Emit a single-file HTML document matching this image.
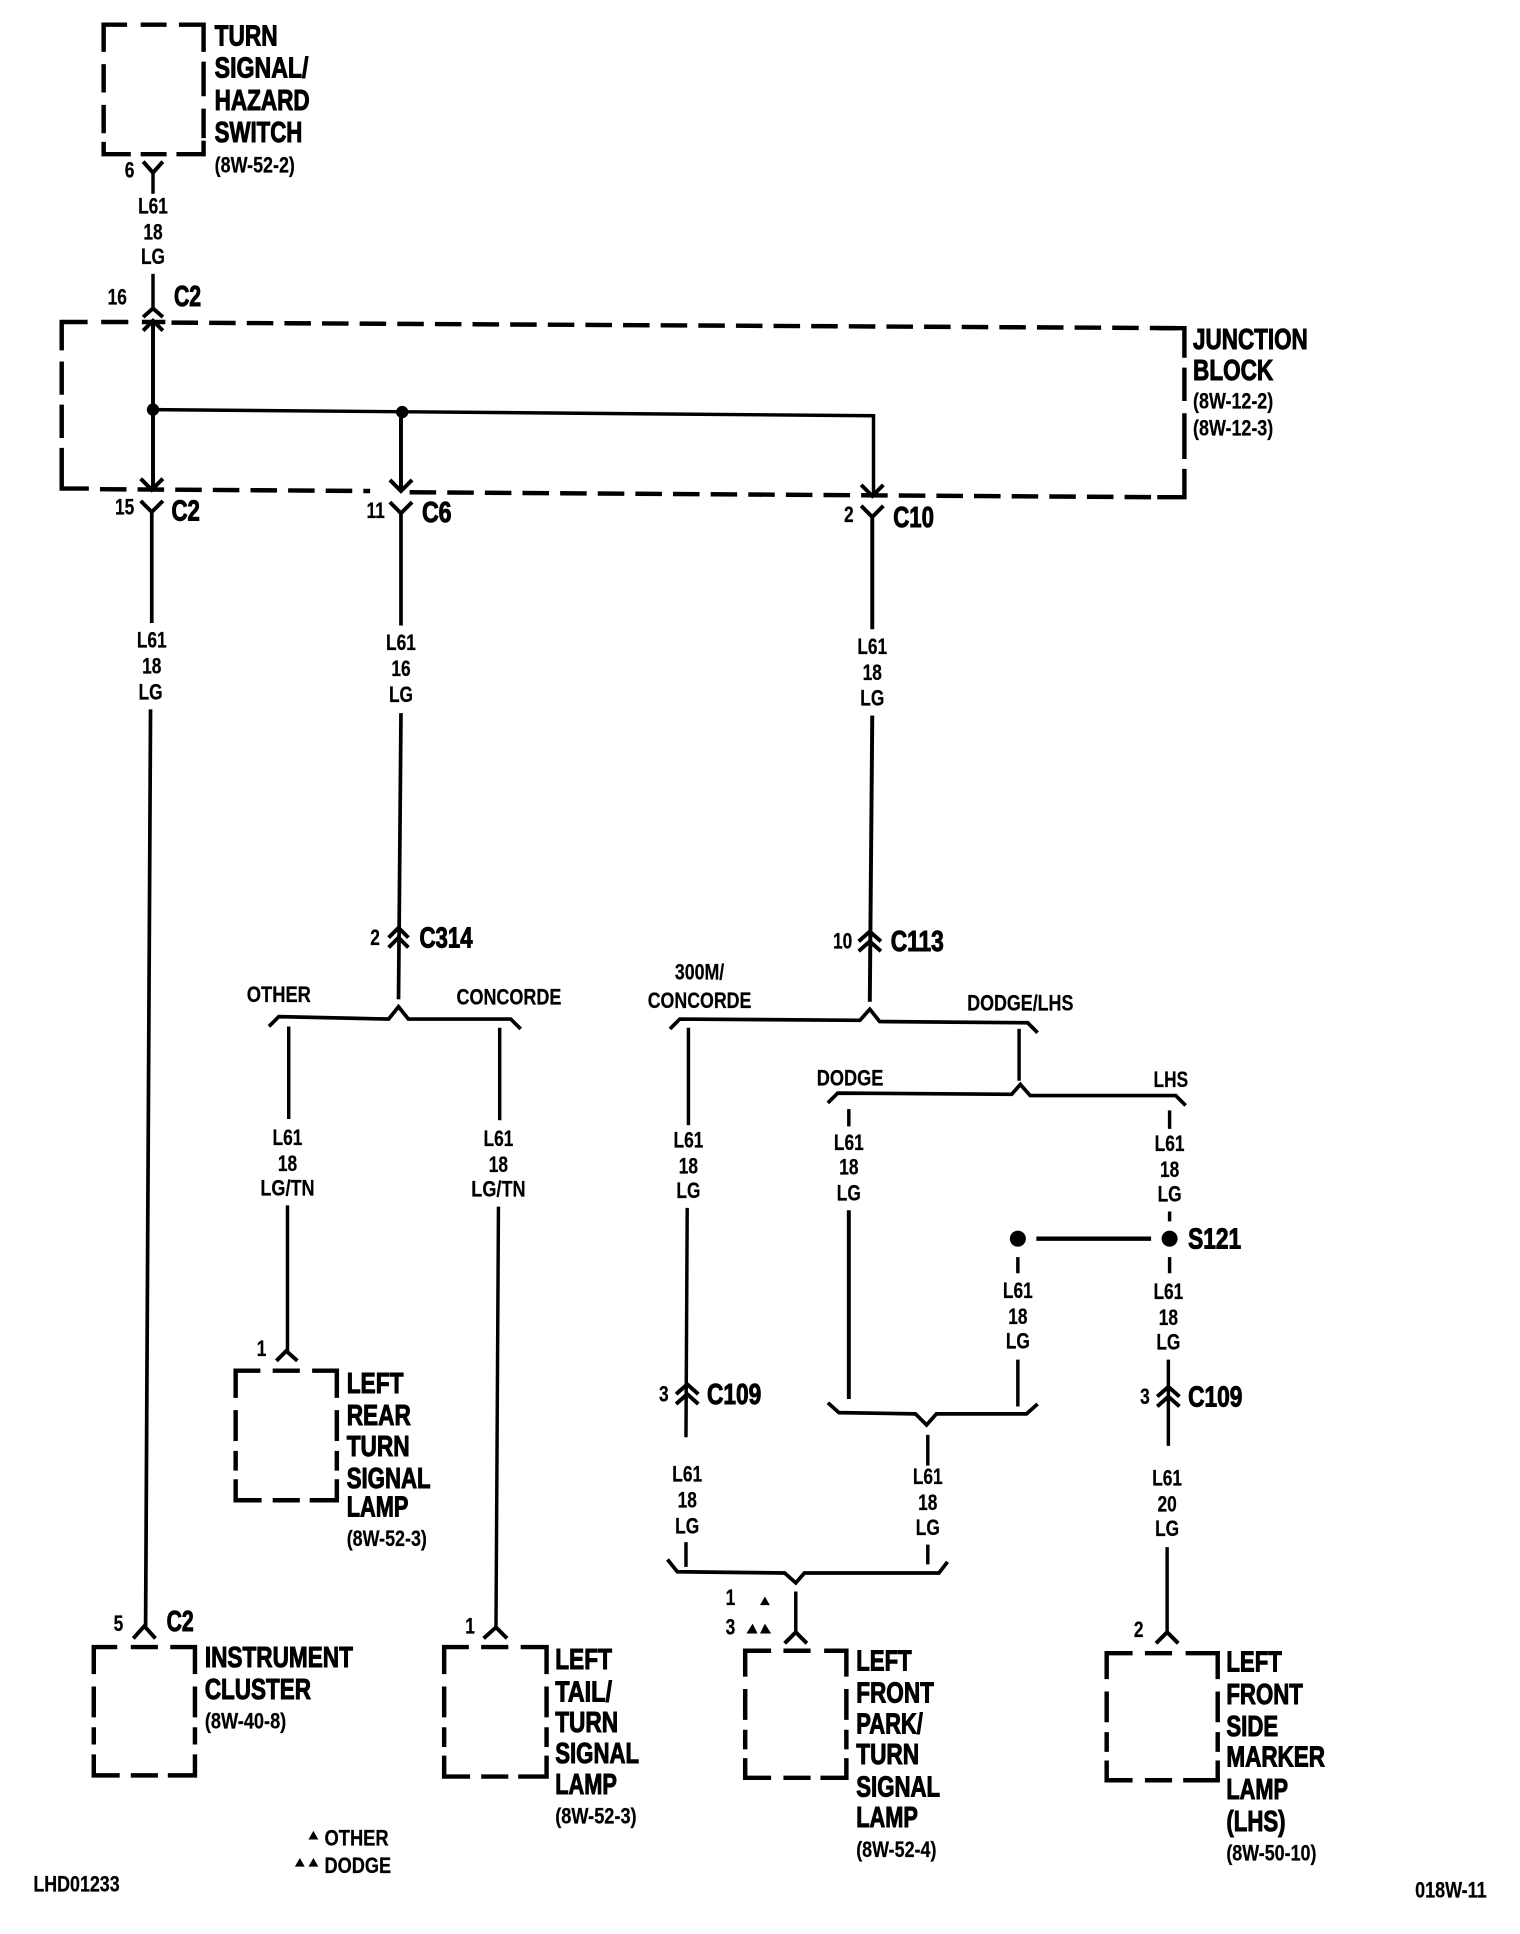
<!DOCTYPE html>
<html>
<head>
<meta charset="utf-8">
<style>
html,body{margin:0;padding:0;background:#fff;width:1520px;height:1934px;overflow:hidden}
svg{display:block}
text{font-family:"Liberation Sans",sans-serif;fill:#000}
.b{font-size:23px;font-weight:bold;stroke:#000;stroke-width:.8px}
.s{font-size:18px;font-weight:bold;stroke:#000;stroke-width:.2px}
.m{text-anchor:middle}
.l text{transform-box:fill-box;transform-origin:center;transform:scaleX(.78)}
.l text[textLength]{transform:none}
.w{fill:none;stroke:#000;stroke-width:2.8}
.t{fill:none;stroke:#000;stroke-width:3.2}
.d{fill:none;stroke:#000;stroke-width:3.6}
</style>
</head>
<body>
<svg width="1520" height="1934" viewBox="0 0 1232 1567.6" xmlns="http://www.w3.org/2000/svg">
<rect width="1232" height="1568" fill="#fff"/>

<!-- dashed boxes -->
<path class="d" d="M84 42V20H103M114 20H135M145 20H165V42M84 52V75M84 85V108M165 50V78M165 88V112M84 115V125H106M114 125H135M143 125H165V114"/>
<path class="d" d="M50 284V261H71M82 261H104M115 261H134"/>
<path class="d" stroke-dasharray="21.5 9" d="M139 261.5L960 266"/>
<path class="d" d="M939 266H960V290M960 298V325M960 335V372M960 380V403H938M50 293V320M50 328V355M50 363V396H72"/>
<path class="d" stroke-dasharray="21.5 9" d="M81 396.5L300 398"/>
<path class="d" stroke-dasharray="21.5 9" d="M332 399L938 403"/>
<path class="d" d="M76 1357V1335H95M106 1335H128M138 1335H158V1357M76 1367V1392M76 1400V1414M158 1367V1392M158 1400V1414M76 1422V1439H97M106 1439H128M136 1439H158V1422"/>
<path class="d" d="M191 1133V1111H211M221 1111H243M253 1111H273V1133M191 1143V1168M191 1176V1192M273 1143V1168M273 1176V1192M191 1199V1216H212M221 1216H243M251 1216H273V1199"/>
<path class="d" d="M360 1357V1335H380M390 1335H412M422 1335H443V1357M360 1367V1392M360 1400V1416M443 1367V1392M443 1400V1416M360 1423V1440H381M390 1440H412M420 1440H443V1423"/>
<path class="d" d="M604 1359V1338H625M635 1338H657M668 1338H686V1359M604 1369V1394M604 1402V1418M686 1369V1394M686 1402V1418M604 1425V1441H625M635 1441H657M665 1441H686V1425"/>
<path class="d" d="M897 1361V1340H918M928 1340H950M961 1340H987V1361M897 1371V1396M897 1404V1420M987 1371V1396M987 1404V1420M897 1427V1443H918M928 1443H950M959 1443H987V1427"/>

<!-- junction block wiring -->
<path class="t" d="M124 332L708 337V402" style="stroke-width:2.8"/>
<path class="t" d="M124 260V397M325 334V398"/>
<circle cx="124" cy="332" r="5"/><circle cx="326" cy="334" r="5"/>
<polyline class="t" points="116,268 124,260 132,268"/>
<polyline class="t" points="114,388 123,397 132,388"/>
<polyline class="t" points="316,389 325,398 334,389"/>
<polyline class="t" points="698,393 707,402 716,393"/>

<!-- top connector -->
<polyline class="t" points="116,131 124,140 132,131"/>
<path class="w" d="M124 140V157M124 222V250"/>
<polyline class="t" points="116,257 124,250 132,257"/>

<!-- C2 / C6 / C10 Y connectors -->
<polyline class="t" points="114,406 123,415 132,406"/>
<path class="w" d="M123 415V505M122 575L118 1318" style="stroke-width:3"/>
<polyline class="t" points="108,1328 117,1318 126,1328"/>

<polyline class="t" points="316,407 325,416 334,407"/>
<path class="w" d="M325 416V507M325 578L323 810" style="stroke-width:3"/>
<polyline class="t" points="315,760 323,752 331,760"/>
<polyline class="t" points="315,768 323,760 331,768"/>

<polyline class="t" points="698,410 707,419 716,410"/>
<path class="w" d="M707 419V510M707 580L705 812" style="stroke-width:3.2"/>
<polyline class="t" points="696,763 705,755 714,763"/>
<polyline class="t" points="696,771 705,763 714,771"/>

<!-- brackets -->
<polyline class="w" style="stroke-width:3" points="218,832 226,824 315,826 323,816 331,826 414,826 422,834"/>
<polyline class="w" style="stroke-width:3" points="543,834 551,826 697,827 705,818 713,828 833,829 841,837"/>
<polyline class="w" style="stroke-width:3" points="671,894 679,886 820,887 827,879 835,888 953,888 961,896"/>
<polyline class="w" style="stroke-width:3" points="671,1137 680,1145 742,1146 751,1155 759,1146 832,1146 841,1138"/>
<polyline class="w" style="stroke-width:3" points="541,1264 549,1274 636,1275 645,1283 652,1275 761,1275 768,1266"/>

<!-- other branch wires -->
<path class="w" d="M234 832V907M233 977V1095"/>
<polyline class="t" points="224,1103 232,1095 241,1103"/>
<path class="w" d="M405 833V908M404 978L402 1320"/>
<polyline class="t" points="392,1328 402,1319 411,1328"/>

<path class="w" d="M558 833V912M557 979L556 1165M556 1250V1270"/>
<polyline class="t" points="548,1130 557,1122 566,1130"/>
<polyline class="t" points="548,1138 557,1130 566,1138"/>
<path class="w" d="M752 1163V1188M752 1252V1268"/>
<path class="w" d="M826 834V876M688 899V913M825 1019V1032M825 1102V1140M948 900V915M948 982V990M948 1019V1032M947 1102V1172M946 1254V1322" />
<path class="w" style="stroke-width:3.2" d="M688 981V1134"/>
<path class="w" style="stroke-width:3.6" d="M840 1004H933"/>
<circle cx="825" cy="1004" r="6.5"/><circle cx="948" cy="1004" r="6.5"/>
<polyline class="t" points="938,1132 947,1124 956,1132"/>
<polyline class="t" points="938,1140 947,1132 956,1140"/>
<polyline class="t" points="937,1332 946,1323 955,1332"/>
<path class="w" d="M645 1290V1325"/>
<polyline class="t" points="636,1332 645,1323 654,1332"/>

<!-- triangles -->
<path d="M616 1301L620 1294L624 1301Z"/>
<path d="M605 1324L610 1316L614 1324ZM616 1324L620 1316L625 1324Z"/>
<path d="M250 1491L254 1484L258 1491Z"/>
<path d="M239 1513L243 1506L247 1513ZM250 1513L254 1506L258 1513Z"/>

<!-- large labels -->
<text class="b" x="174" y="37" textLength="51" lengthAdjust="spacingAndGlyphs">TURN</text>
<text class="b" x="174" y="63" textLength="76" lengthAdjust="spacingAndGlyphs">SIGNAL/</text>
<text class="b" x="174" y="89" textLength="77" lengthAdjust="spacingAndGlyphs">HAZARD</text>
<text class="b" x="174" y="115" textLength="71" lengthAdjust="spacingAndGlyphs">SWITCH</text>
<text class="s" x="174" y="140" textLength="65" lengthAdjust="spacingAndGlyphs">(8W-52-2)</text>

<text class="b" x="141" y="248" textLength="22" lengthAdjust="spacingAndGlyphs">C2</text>
<text class="b" x="139" y="422" textLength="23" lengthAdjust="spacingAndGlyphs">C2</text>
<text class="b" x="342" y="423" textLength="24" lengthAdjust="spacingAndGlyphs">C6</text>
<text class="b" x="724" y="427" textLength="33" lengthAdjust="spacingAndGlyphs">C10</text>

<text class="b" x="967" y="283" textLength="93" lengthAdjust="spacingAndGlyphs">JUNCTION</text>
<text class="b" x="967" y="308" textLength="65" lengthAdjust="spacingAndGlyphs">BLOCK</text>
<text class="s" x="967" y="331" textLength="65" lengthAdjust="spacingAndGlyphs">(8W-12-2)</text>
<text class="s" x="967" y="353" textLength="65" lengthAdjust="spacingAndGlyphs">(8W-12-3)</text>

<text class="b" x="340" y="768" textLength="43" lengthAdjust="spacingAndGlyphs">C314</text>
<text class="b" x="722" y="771" textLength="43" lengthAdjust="spacingAndGlyphs">C113</text>
<text class="b" x="573" y="1138" textLength="44" lengthAdjust="spacingAndGlyphs">C109</text>
<text class="b" x="963" y="1140" textLength="44" lengthAdjust="spacingAndGlyphs">C109</text>
<text class="b" x="963" y="1012" textLength="43" lengthAdjust="spacingAndGlyphs">S121</text>
<text class="b" x="135" y="1322" textLength="22" lengthAdjust="spacingAndGlyphs">C2</text>

<text class="b" x="281" y="1129" textLength="46" lengthAdjust="spacingAndGlyphs">LEFT</text>
<text class="b" x="281" y="1155" textLength="52" lengthAdjust="spacingAndGlyphs">REAR</text>
<text class="b" x="281" y="1180" textLength="51" lengthAdjust="spacingAndGlyphs">TURN</text>
<text class="b" x="281" y="1206" textLength="68" lengthAdjust="spacingAndGlyphs">SIGNAL</text>
<text class="b" x="281" y="1229" textLength="50" lengthAdjust="spacingAndGlyphs">LAMP</text>
<text class="s" x="281" y="1253" textLength="65" lengthAdjust="spacingAndGlyphs">(8W-52-3)</text>

<text class="b" x="166" y="1351" textLength="120" lengthAdjust="spacingAndGlyphs">INSTRUMENT</text>
<text class="b" x="166" y="1377" textLength="86" lengthAdjust="spacingAndGlyphs">CLUSTER</text>
<text class="s" x="166" y="1401" textLength="66" lengthAdjust="spacingAndGlyphs">(8W-40-8)</text>

<text class="b" x="450" y="1353" textLength="46" lengthAdjust="spacingAndGlyphs">LEFT</text>
<text class="b" x="450" y="1379" textLength="46" lengthAdjust="spacingAndGlyphs">TAIL/</text>
<text class="b" x="450" y="1404" textLength="51" lengthAdjust="spacingAndGlyphs">TURN</text>
<text class="b" x="450" y="1429" textLength="68" lengthAdjust="spacingAndGlyphs">SIGNAL</text>
<text class="b" x="450" y="1454" textLength="50" lengthAdjust="spacingAndGlyphs">LAMP</text>
<text class="s" x="450" y="1478" textLength="66" lengthAdjust="spacingAndGlyphs">(8W-52-3)</text>

<text class="b" x="694" y="1354" textLength="45" lengthAdjust="spacingAndGlyphs">LEFT</text>
<text class="b" x="694" y="1380" textLength="63" lengthAdjust="spacingAndGlyphs">FRONT</text>
<text class="b" x="694" y="1405" textLength="54" lengthAdjust="spacingAndGlyphs">PARK/</text>
<text class="b" x="694" y="1430" textLength="51" lengthAdjust="spacingAndGlyphs">TURN</text>
<text class="b" x="694" y="1456" textLength="68" lengthAdjust="spacingAndGlyphs">SIGNAL</text>
<text class="b" x="694" y="1481" textLength="50" lengthAdjust="spacingAndGlyphs">LAMP</text>
<text class="s" x="694" y="1505" textLength="65" lengthAdjust="spacingAndGlyphs">(8W-52-4)</text>

<text class="b" x="994" y="1355" textLength="45" lengthAdjust="spacingAndGlyphs">LEFT</text>
<text class="b" x="994" y="1381" textLength="62" lengthAdjust="spacingAndGlyphs">FRONT</text>
<text class="b" x="994" y="1407" textLength="42" lengthAdjust="spacingAndGlyphs">SIDE</text>
<text class="b" x="994" y="1432" textLength="80" lengthAdjust="spacingAndGlyphs">MARKER</text>
<text class="b" x="994" y="1458" textLength="50" lengthAdjust="spacingAndGlyphs">LAMP</text>
<text class="b" x="994" y="1484" textLength="48" lengthAdjust="spacingAndGlyphs">(LHS)</text>
<text class="s" x="994" y="1508" textLength="73" lengthAdjust="spacingAndGlyphs">(8W-50-10)</text>

<!-- option labels -->
<text class="s" x="200" y="812" textLength="52" lengthAdjust="spacingAndGlyphs">OTHER</text>
<text class="s" x="370" y="814" textLength="85" lengthAdjust="spacingAndGlyphs">CONCORDE</text>
<text class="s" x="547" y="794" textLength="40" lengthAdjust="spacingAndGlyphs">300M/</text>
<text class="s" x="525" y="817" textLength="84" lengthAdjust="spacingAndGlyphs">CONCORDE</text>
<text class="s" x="784" y="819" textLength="86" lengthAdjust="spacingAndGlyphs">DODGE/LHS</text>
<text class="s" x="662" y="880" textLength="54" lengthAdjust="spacingAndGlyphs">DODGE</text>
<text class="s" x="935" y="881" textLength="28" lengthAdjust="spacingAndGlyphs">LHS</text>

<!-- numbers -->
<g class="s l">
<text x="100" y="144">6</text>
<text x="85" y="247">16</text>
<text x="91" y="417">15</text>
<text x="295" y="420">11</text>
<text x="683" y="423">2</text>
<text x="299" y="766">2</text>
<text x="673" y="769">10</text>
<text x="533" y="1136">3</text>
<text x="923" y="1138">3</text>
<text x="207" y="1099">1</text>
<text x="91" y="1322">5</text>
<text x="376" y="1324">1</text>
<text x="587" y="1301">1</text>
<text x="587" y="1325">3</text>
<text x="918" y="1327">2</text>
</g>

<!-- wire labels -->
<g class="s m l">
<text x="124" y="173">L61</text><text x="124" y="194">18</text><text x="124" y="214">LG</text>
<text x="123" y="525">L61</text><text x="123" y="546">18</text><text x="122" y="567">LG</text>
<text x="325" y="527">L61</text><text x="325" y="548">16</text><text x="325" y="569">LG</text>
<text x="707" y="530">L61</text><text x="707" y="551">18</text><text x="707" y="572">LG</text>
<text x="233" y="928">L61</text><text x="233" y="949">18</text><text x="233" y="969" textLength="44" lengthAdjust="spacingAndGlyphs">LG/TN</text>
<text x="404" y="929">L61</text><text x="404" y="950">18</text><text x="404" y="970" textLength="44" lengthAdjust="spacingAndGlyphs">LG/TN</text>
<text x="558" y="930">L61</text><text x="558" y="951">18</text><text x="558" y="971">LG</text>
<text x="688" y="932">L61</text><text x="688" y="952">18</text><text x="688" y="973">LG</text>
<text x="948" y="933">L61</text><text x="948" y="954">18</text><text x="948" y="974">LG</text>
<text x="825" y="1052">L61</text><text x="825" y="1073">18</text><text x="825" y="1093">LG</text>
<text x="947" y="1053">L61</text><text x="947" y="1074">18</text><text x="947" y="1094">LG</text>
<text x="557" y="1201">L61</text><text x="557" y="1222">18</text><text x="557" y="1243">LG</text>
<text x="752" y="1203">L61</text><text x="752" y="1224">18</text><text x="752" y="1244">LG</text>
<text x="946" y="1204">L61</text><text x="946" y="1225">20</text><text x="946" y="1245">LG</text>
</g>

<!-- legend -->
<text class="s" x="263" y="1496" textLength="52" lengthAdjust="spacingAndGlyphs">OTHER</text>
<text class="s" x="263" y="1518" textLength="54" lengthAdjust="spacingAndGlyphs">DODGE</text>
<text class="s" x="27" y="1533" textLength="70" lengthAdjust="spacingAndGlyphs">LHD01233</text>
<text class="s" x="1147" y="1538" textLength="58" lengthAdjust="spacingAndGlyphs">018W-11</text>
</svg>
</body>
</html>
